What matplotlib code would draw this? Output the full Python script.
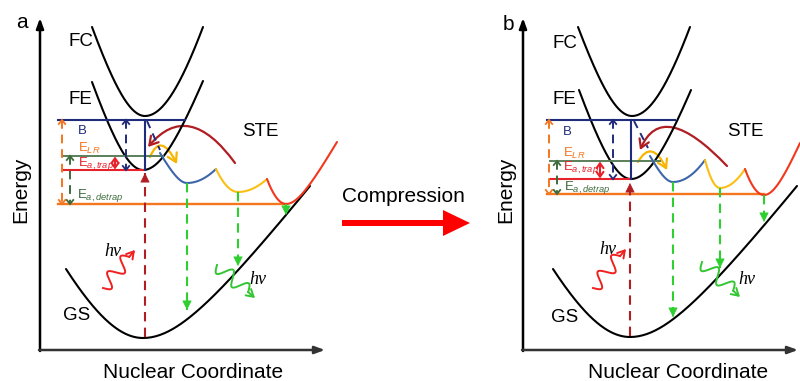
import numpy as np
import matplotlib
matplotlib.use("Agg")
import matplotlib.pyplot as plt
from matplotlib.path import Path
from matplotlib.patches import FancyArrowPatch

plt.rcParams['font.family'] = ['Liberation Sans', 'DejaVu Sans']
plt.rcParams['mathtext.fontset'] = 'custom'
plt.rcParams['mathtext.rm'] = 'Liberation Sans'
plt.rcParams['mathtext.it'] = 'Liberation Sans:italic'
plt.rcParams['mathtext.bf'] = 'Liberation Sans:bold'

# ---------------- data (schematic) ----------------
panel_labels = ['a', 'b']
axis_origin_x = [40, 523]
axis_end_x = [325, 798]
axis_base_y = 350
axis_top_y = 18

fc_vertex = [(145, 116), (632, 116)]
fc_left = [(92, 27), (578, 27)]
fc_right = [(203, 27), (690, 27)]
fe_vertex = [(143, 170), (631, 179)]
fe_left = [(92, 82), (579, 90)]
fe_right = [(203, 81), (691, 90)]
gs_vertex = [(143, 338), (630, 337)]
gs_left = [(66, 269), (553, 269)]
gs_right = [(310, 186), (797, 186)]

level_B = [120, 120]
level_LR = [156, 161]
level_trap = [170, 179]
level_detrap = [204, 194]
level_B_x = [(58, 185), (547, 675)]
level_LR_x = [(62, 163), (550, 660)]
level_trap_x = [(62, 143), (550, 631)]
level_detrap_x = [(58, 286), (547, 764)]

# STE potential: start, min1, barrier1, min2, barrier2, min3, end
ste_pts = [
    [(160, 153), (187, 183), (216, 169), (238, 192), (267, 179), (286, 204), (337, 142)],
    [(650, 156), (673, 182), (705, 160), (720, 188), (745, 169), (764, 195), (800, 143)],
]

arrow_detrap_x = [62, 549]
arrow_Ea_detrap_x = [70, 557]
arrow_trap_x = [115, 600]
arrow_B_x = [126, 613]
vertical_B_x = [145, 631]

emission_end_y = [[310, 266, 215], [317, 268, 222]]
absorption_x = [145, 630]
absorption_top = [173, 183]

relax_arc = [[(235, 163), (190, 127), (148, 147)], [(727, 166), (673, 128), (640, 150)]]
hop_arc = [[(150, 157), (162, 146), (177, 164)], [(638, 162), (652, 152), (667, 170)]]
diag_dash = [[(147, 121), (160, 150)], [(634, 121), (648, 148)]]

photon_abs = [[(103, 288), (135, 250)], [(593, 288), (626, 249)]]
photon_em = [[(217, 265), (255, 298)], [(702, 262), (740, 297)]]
hv_abs_pos = [(113, 252), (608, 250)]
hv_em_pos = [(258, 280), (747, 279)]

fc_label = [(68, 42), (553, 43)]
fe_label = [(68, 100), (553, 100)]
ste_label = [(260, 132), (745, 132)]
gs_label = [(63, 316), (551, 317)]
B_label = [(78, 131), (563, 132)]
LR_label = [(78, 148), (563, 153)]
trap_label = [(78, 163), (563, 168)]
detrap_label = [(77, 196), (564, 188)]
energy_label_x = [21, 506]
energy_label_y = 190
xlabel_x = [193, 678]
xlabel_y = 372
panel_letter_pos = [(22, 28), (508, 30)]

compression_start = (342, 223)
compression_end = (470, 223)
compression_text = (403, 197)

# ---------------- colours ----------------
NAVY = '#1f2b7b'
DKGREEN = '#3c6b3c'
LRGREEN = '#5a7f5a'
RED = '#e8222a'
ORANGE = '#f4761f'
BLUE = '#3d66aa'
YELLOW = '#fbbf14'
STERED = '#f2381c'
DKRED = '#b01e24'
GOLD = '#f7b500'
GREEN = '#2fcf2f'
PHGREEN = '#33c633'

fig = plt.figure(figsize=(8.0, 3.81), dpi=100)
ax = fig.add_axes([0, 0, 1, 1])
ax.set_xlim(0, 800)
ax.set_ylim(381, 0)
ax.axis('off')


def arm(v, e, w, n=80):
    xs = np.linspace(v[0], e[0], n)
    g = lambda d: np.sqrt(1 + (d / w) ** 2) - 1
    A = (e[1] - v[1]) / g(e[0] - v[0])
    return xs, v[1] + A * g(xs - v[0])


def well(left, v, right, wl, wr, **kw):
    xl, yl = arm(v, left, wl)
    xr, yr = arm(v, right, wr)
    ax.plot(np.r_[xl[::-1], xr], np.r_[yl[::-1], yr], solid_capstyle='round', **kw)


def chevron(x, y, up, color, s=4.0, lw=1.3):
    d = s if up else -s
    ax.plot([x - s * 0.8, x, x + s * 0.8], [y + d, y, y + d], color=color, lw=lw,
            solid_joinstyle='miter')


def dashed_double(x, y_top, y_bot, color, lw=1.4):
    ax.plot([x, x], [y_top, y_bot], color=color, lw=lw, ls=(0, (4.5, 3)))
    chevron(x, y_top, True, color)
    chevron(x, y_bot, False, color)


def filled_arrow(x, y_from, y_to, color, lw=1.5):
    ax.plot([x, x], [y_from, y_to], color=color, lw=lw, ls=(0, (4.5, 3)))
    sgn = 1 if y_to > y_from else -1
    ax.annotate('', xy=(x, y_to), xytext=(x, y_to - sgn * 7),
                arrowprops=dict(arrowstyle='-|>,head_length=0.6,head_width=0.3',
                                color=color, lw=0.5, shrinkA=0, shrinkB=0))


def bezier_arrow(p0, top, p2, color, lw=1.6):
    p0, top, p2 = map(np.array, (p0, top, p2))
    c = 2 * top - 0.5 * (p0 + p2)
    path = Path([p0, c, p2], [Path.MOVETO, Path.CURVE3, Path.CURVE3])
    ax.add_patch(FancyArrowPatch(path=path, arrowstyle='->,head_length=0.5,head_width=0.3',
                                 mutation_scale=12, color=color, lw=lw))


def photon(start, end, color, nwave=2.0, amp=7.0):
    p0 = np.array(start, float)
    p1 = np.array(end, float)
    d = p1 - p0
    L = np.hypot(*d)
    u = d / L
    nrm = np.array([-u[1], u[0]])
    s = np.linspace(0, 0.82, 200)
    off = amp * np.sin(2 * np.pi * nwave * s / 0.82)
    pts = p0 + np.outer(s * L, u) + np.outer(off, nrm)
    ax.plot(pts[:, 0], pts[:, 1], color=color, lw=1.4)
    ax.annotate('', xy=p1, xytext=pts[-1],
                arrowprops=dict(arrowstyle='->,head_length=0.5,head_width=0.3',
                                color=color, lw=1.4, shrinkA=0, shrinkB=0))


for i in range(2):
    x0 = axis_origin_x[i]
    # axes
    ax.annotate('', xy=(x0, axis_top_y), xytext=(x0, axis_base_y + 1),
                arrowprops=dict(arrowstyle='-|>,head_length=0.6,head_width=0.22',
                                color='black', lw=1.8, shrinkA=0, shrinkB=0))
    ax.annotate('', xy=(axis_end_x[i], axis_base_y), xytext=(x0 - 1, axis_base_y),
                arrowprops=dict(arrowstyle='-|>,head_length=0.6,head_width=0.22',
                                color='#333333', lw=1.8, shrinkA=0, shrinkB=0))
    ax.text(energy_label_x[i], energy_label_y, 'Energy', rotation=90, fontsize=15,
            ha='center', va='center')
    ax.text(xlabel_x[i], xlabel_y, 'Nuclear Coordinate', fontsize=15, ha='center', va='center')
    ax.text(*panel_letter_pos[i], panel_labels[i], fontsize=15, ha='center', va='baseline')

    # potential curves
    well(fc_left[i], fc_vertex[i], fc_right[i], 40, 60, color='black', lw=1.5)
    well(fe_left[i], fe_vertex[i], fe_right[i], 35, 40, color='black', lw=1.5)
    well(gs_left[i], gs_vertex[i], gs_right[i], 80, 60, color='black', lw=1.5)

    # energy levels
    ax.plot(level_B_x[i], [level_B[i]] * 2, color=NAVY, lw=1.5)
    ax.plot(level_LR_x[i], [level_LR[i]] * 2, color=LRGREEN, lw=1.4)
    ax.plot(level_trap_x[i], [level_trap[i]] * 2, color=RED, lw=1.5)
    ax.plot(level_detrap_x[i], [level_detrap[i]] * 2, color=ORANGE, lw=1.7)

    # STE wells
    p = ste_pts[i]
    well(p[0], p[1], p[2], 15, 1000, color=BLUE, lw=1.5)
    well(p[2], p[3], p[4], 1000, 1000, color=YELLOW, lw=1.5)
    well(p[4], p[5], p[6], 1000, 20, color=STERED, lw=1.5)

    # level arrows
    dashed_double(arrow_detrap_x[i], level_B[i], level_detrap[i], ORANGE)
    dashed_double(arrow_Ea_detrap_x[i], level_LR[i], level_detrap[i], DKGREEN)
    dashed_double(arrow_B_x[i], level_B[i], level_trap[i], NAVY)
    ax.annotate('', xy=(arrow_trap_x[i], level_LR[i] + 0.5), xytext=(arrow_trap_x[i], level_trap[i] - 0.5),
                arrowprops=dict(arrowstyle='<->,head_length=0.35,head_width=0.25',
                                color=RED, lw=1.5, shrinkA=0, shrinkB=0))
    ax.plot([vertical_B_x[i]] * 2, [level_B[i], level_trap[i]], color=NAVY, lw=1.5)
    ax.plot(*zip(*diag_dash[i]), color=NAVY, lw=1.4, ls=(0, (4, 3)))

    # emission & absorption
    for k, mi in enumerate([1, 3, 5]):
        filled_arrow(p[mi][0], p[mi][1], emission_end_y[i][k], GREEN)
    filled_arrow(absorption_x[i], gs_vertex[i][1] - 1, absorption_top[i], DKRED)

    # curved arrows
    bezier_arrow(*relax_arc[i], DKRED)
    bezier_arrow(*hop_arc[i], GOLD)

    # photons
    photon(*photon_abs[i], '#f02020')
    photon(*photon_em[i], PHGREEN)
    ax.text(*hv_abs_pos[i], 'hν', fontsize=13, family='Liberation Serif', style='italic',
            ha='center', va='center')
    ax.text(*hv_em_pos[i], 'hν', fontsize=13, family='Liberation Serif', style='italic',
            ha='center', va='center')

    # labels
    ax.text(*fc_label[i], 'FC', fontsize=13.5, ha='left', va='center')
    ax.text(*fe_label[i], 'FE', fontsize=13.5, ha='left', va='center')
    ax.text(*ste_label[i], 'STE', fontsize=13.5, ha='center', va='center')
    ax.text(*gs_label[i], 'GS', fontsize=13.5, ha='left', va='center')
    ax.text(*B_label[i], 'B', fontsize=9.5, color=NAVY, ha='left', va='center')
    ax.text(*LR_label[i], r'E$_{LR}$', fontsize=9.5, color=ORANGE, ha='left', va='center')
    ax.text(*trap_label[i], r'E$_{a,trap}$', fontsize=9.5, color=RED, ha='left', va='center')
    ax.text(*detrap_label[i], r'E$_{a,detrap}$', fontsize=9.5, color=DKGREEN, ha='left', va='center')

# compression arrow
ax.arrow(compression_start[0], compression_start[1],
         compression_end[0] - compression_start[0], 0,
         width=6, head_width=26, head_length=27, length_includes_head=True,
         color='#ff0000', lw=0)
ax.text(*compression_text, 'Compression', fontsize=15, ha='center', va='center')

fig.savefig('out.png', dpi=100)
